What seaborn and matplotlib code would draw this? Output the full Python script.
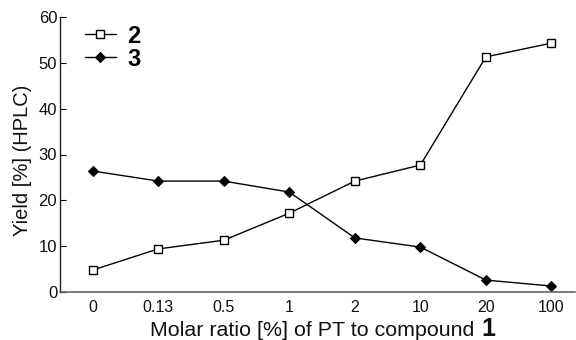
import matplotlib
matplotlib.use("Agg")
import matplotlib.pyplot as plt
import seaborn as sns
import pandas as pd

ratios = ["0", "0.13", "0.5", "1", "2", "10", "20", "100"]
yield_2 = [4.8, 9.4, 11.3, 17.2, 24.2, 27.7, 51.3, 54.3]
yield_3 = [26.4, 24.2, 24.2, 21.8, 11.8, 9.8, 2.6, 1.3]

sns.set_theme(style="white")
plt.rcParams['font.family'] = ['Liberation Sans', 'DejaVu Sans']

df2 = pd.DataFrame({"ratio": ratios, "y": yield_2})
df3 = pd.DataFrame({"ratio": ratios, "y": yield_3})

W, H = 576, 340
fig = plt.figure(figsize=(W/100, H/100), dpi=100)
ax = fig.add_axes([60/W, 48/H, 515/W, 275/H])

sns.lineplot(data=df2, x="ratio", y="y", ax=ax, color="black", lw=1.0,
             marker="s", markersize=6, markerfacecolor="white",
             markeredgecolor="black", markeredgewidth=1.0, label="2")
sns.lineplot(data=df3, x="ratio", y="y", ax=ax, color="black", lw=1.0,
             marker="D", markersize=5.5, markerfacecolor="black",
             markeredgecolor="black", label="3")

ax.set_xlim(-0.5, 7.36)
ax.set_ylim(0, 60)
ax.set_yticks([0, 10, 20, 30, 40, 50, 60])
for s in ["top", "right"]:
    ax.spines[s].set_visible(False)
ax.spines["left"].set_color("#222222")
ax.spines["bottom"].set_color("#666666")
ax.spines["left"].set_linewidth(1.0)
ax.spines["bottom"].set_linewidth(1.2)
ax.tick_params(axis="y", direction="in", length=4, width=0.8, color="black",
               labelsize=12, pad=2, left=True, labelcolor="#111111")
ax.tick_params(axis="x", length=0, labelsize=11.5, pad=6, labelcolor="#111111")
ax.set_ylabel("Yield [%] (HPLC)", fontsize=14.5, color="#111111")
ax.yaxis.set_label_coords(-28/515, 0.48)
ax.set_xlabel("")

# x-axis label with bold compound number
t1 = fig.text(150/W, 1 - 336/H, "Molar ratio [%] of PT to compound ",
              fontsize=15.4, ha="left", va="baseline", color="#111111")
fig.canvas.draw()
bb = t1.get_window_extent()
fig.text((bb.x1 + 1) / W, 1 - 336/H, "1",
         fontsize=18, fontweight="bold", ha="left", va="baseline", color="#111111")

leg = ax.legend(loc="upper left", frameon=False,
                prop={"weight": "bold", "size": 17}, handlelength=1.3,
                handletextpad=0.5, labelspacing=0.0, borderaxespad=0.0,
                bbox_to_anchor=(0.030, 1.007))
for t in leg.get_texts():
    t.set_color("black")

fig.savefig("out.png", dpi=100)
